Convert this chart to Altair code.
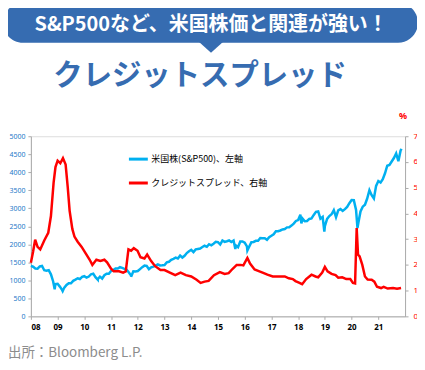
import altair as alt
import pandas as pd

# ---------------- data ----------------
years = list(range(2008, 2022))
sp_2008 = [1378, 1330, 1323, 1386, 1400, 1280, 1267, 1283, 1166, 969, 896, 903]
sp_2009 = [826, 735, 798, 873, 919, 919, 987, 1021, 1057, 1036, 1096, 1115]
sp_2010 = [1074, 1104, 1169, 1187, 1089, 1031, 1102, 1049, 1141, 1183, 1181, 1258]
sp_2011 = [1286, 1327, 1326, 1364, 1345, 1321, 1292, 1219, 1131, 1253, 1247, 1258]
sp_2012 = [1312, 1366, 1408, 1398, 1310, 1362, 1379, 1407, 1441, 1412, 1416, 1426]
sp_2013 = [1498, 1515, 1569, 1598, 1631, 1606, 1686, 1633, 1682, 1757, 1806, 1848]
sp_2014 = [1783, 1859, 1872, 1884, 1924, 1960, 1931, 2003, 1972, 2018, 2068, 2059]
sp_2015 = [1995, 2105, 2068, 2086, 2107, 2063, 2104, 1972, 1920, 2079, 2080, 2044]
sp_2016 = [1940, 1932, 2060, 2065, 2097, 2099, 2174, 2171, 2168, 2126, 2199, 2239]
sp_2017 = [2279, 2364, 2363, 2384, 2412, 2423, 2470, 2472, 2519, 2575, 2648, 2674]
sp_2018 = [2824, 2714, 2641, 2648, 2705, 2718, 2816, 2902, 2914, 2712, 2760, 2507]
sp_2019 = [2704, 2784, 2834, 2946, 2752, 2942, 2980, 2926, 2977, 3038, 3141, 3231]
sp_2020 = [3226, 2954, 2585, 2912, 3044, 3100, 3271, 3500, 3363, 3270, 3622, 3756]
sp_2021 = [3714, 3811, 3973, 4181, 4204, 4298, 4395, 4523, 4308, 4605]
sp_by_year = [sp_2008, sp_2009, sp_2010, sp_2011, sp_2012, sp_2013, sp_2014,
              sp_2015, sp_2016, sp_2017, sp_2018, sp_2019, sp_2020, sp_2021]
# intra-month extremes
sp_extra_t = [2008.0, 2008.89, 2009.19, 2010.5, 2011.75, 2015.65, 2016.1,
              2018.12, 2018.98, 2020.22, 2021.87]
sp_extra_v = [1400, 752, 700, 1022, 1099, 1868, 1829, 2581, 2351, 2450, 4650]

cs_t = [2008.0, 2008.08, 2008.16, 2008.25, 2008.35, 2008.5, 2008.65, 2008.75, 2008.85, 2008.92,
        2009.0, 2009.1, 2009.2, 2009.3, 2009.38, 2009.45, 2009.55, 2009.63, 2009.75, 2009.9,
        2010.05, 2010.2, 2010.3, 2010.45, 2010.6, 2010.75, 2010.85, 2011.0, 2011.1, 2011.3,
        2011.45, 2011.55, 2011.65, 2011.75, 2011.85, 2011.99, 2012.1, 2012.25, 2012.35, 2012.5,
        2012.65, 2012.85, 2013.0, 2013.2, 2013.4, 2013.6, 2013.8, 2014.0, 2014.2, 2014.35,
        2014.5, 2014.65, 2014.85, 2015.07, 2015.25, 2015.4, 2015.55, 2015.7, 2015.85, 2015.95,
        2016.1, 2016.2, 2016.37, 2016.55, 2016.67, 2016.85, 2017.05, 2017.3, 2017.5, 2017.65,
        2017.8, 2017.9, 2018.05, 2018.15, 2018.3, 2018.5, 2018.65, 2018.75, 2018.9, 2019.0,
        2019.1, 2019.25, 2019.4, 2019.5, 2019.65, 2019.8, 2019.95, 2020.05, 2020.13, 2020.19,
        2020.24, 2020.3, 2020.4, 2020.5, 2020.6, 2020.75, 2020.85, 2020.95, 2021.1, 2021.2,
        2021.35, 2021.55, 2021.7, 2021.85]
cs_v = [2.08, 2.5, 2.98, 2.7, 2.6, 2.95, 3.25, 3.9, 5.2, 5.8,
        6.05, 5.95, 6.15, 5.9, 5.0, 4.1, 3.4, 3.1, 2.9, 2.7,
        2.45, 2.2, 2.0, 2.2, 2.15, 2.2, 2.1, 1.85, 1.75, 1.75,
        1.7, 1.75, 2.6, 2.55, 2.65, 2.55, 2.3, 2.25, 2.4, 2.15,
        1.95, 1.8, 1.8, 1.7, 1.6, 1.7, 1.6, 1.55, 1.42, 1.3,
        1.35, 1.38, 1.6, 1.72, 1.65, 1.68, 1.85, 2.0, 2.0, 1.98,
        2.27, 2.05, 1.82, 1.75, 1.7, 1.62, 1.55, 1.55, 1.55, 1.48,
        1.45, 1.37, 1.3, 1.25, 1.45, 1.62, 1.55, 1.52, 1.7, 1.92,
        1.75, 1.65, 1.6, 1.5, 1.52, 1.45, 1.45, 1.3, 1.28, 3.43,
        2.4, 2.33, 2.0, 1.55, 1.43, 1.42, 1.35, 1.15, 1.1, 1.15,
        1.08, 1.1, 1.07, 1.1]

series_names = ["米国株(S&P500)、左軸", "クレジットスプレッド、右軸"]
series_colors = ["#00b0f0", "#ff0000"]
x_ticks = years
left_ticks = list(range(0, 5001, 500))
right_ticks = list(range(0, 8))

banner_text = "S&P500など、米国株価と関連が強い！"
title_text = "クレジットスプレッド"
source_text = "出所：Bloomberg L.P."
unit_text = "%"

# ---------------- tables ----------------
rows = []
for y, vals in zip(years, sp_by_year):
    for m, v in enumerate(vals):
        rows.append({"t": y + (m + 1) / 12.0, "v": v})
for t, v in zip(sp_extra_t, sp_extra_v):
    rows.append({"t": t, "v": v})
sp_df = pd.DataFrame(rows).sort_values("t")
sp_df["s"] = series_names[0]
cs_df = pd.DataFrame({"t": cs_t, "v": cs_v})
cs_df["s"] = series_names[1]

FONT = "Noto Sans CJK JP"
BLUE = "#366cb1"

color_scale = alt.Scale(domain=series_names, range=series_colors)
legend = alt.Legend(
    title=None, orient="none", legendX=97, legendY=12, symbolType="stroke",
    symbolSize=361, symbolStrokeWidth=3, labelFont=FONT, labelFontSize=9,
    labelColor="#000000", labelOffset=2, rowPadding=7, padding=0,
)

x_axis = alt.Axis(values=x_ticks, title=None, grid=False, labelOverlap=False,
                  labelExpr="substring(toString(datum.value), 2, 4)",
                  labelFont="Noto Sans", labelFontSize=8, labelFontWeight="bold",
                  labelColor="#000000", domainColor="#aaaaaa", tickColor="#aaaaaa",
                  tickSize=3, labelPadding=4)
x_scale = alt.Scale(domain=[2008, 2022], nice=False, zero=False)

sp_line = alt.Chart(sp_df).mark_line(strokeWidth=2.5).encode(
    x=alt.X("t:Q", scale=x_scale, axis=x_axis),
    y=alt.Y("v:Q", scale=alt.Scale(domain=[0, 5000], nice=False),
            axis=alt.Axis(orient="left", values=left_ticks, title=None, grid=False,
                          labelOverlap=False, format="d",
                          labelFont="Noto Sans", labelFontSize=7, labelColor="#1e78c8",
                          domainColor="#aaaaaa", tickColor="#aaaaaa", tickSize=3,
                          labelPadding=3)),
    color=alt.Color("s:N", scale=color_scale, legend=legend),
)

cs_line = alt.Chart(cs_df).mark_line(strokeWidth=2.5).encode(
    x=alt.X("t:Q", scale=x_scale, axis=x_axis),
    y=alt.Y("v:Q", scale=alt.Scale(domain=[0, 7], nice=False),
            axis=alt.Axis(orient="right", values=right_ticks, title=None, grid=False,
                          labelOverlap=False, format="d",
                          labelFont="Noto Sans", labelFontSize=8, labelColor="#ff0000",
                          domainColor="#aaaaaa", tickColor="#aaaaaa", tickSize=3,
                          labelPadding=5)),
    color=alt.Color("s:N", scale=color_scale, legend=legend),
)

lines = alt.layer(sp_line, cs_line).resolve_scale(y="independent")

one = pd.DataFrame({"k": [0]})
banner = alt.Chart(one).mark_rect(color=BLUE, cornerRadius=20).encode(
    x=alt.value(-28), x2=alt.value(389), y=alt.value(-134), y2=alt.value(-94))
pointer = alt.Chart(one).mark_point(
    shape="M-1,-0.05L1,-0.05L0,0.85Z", filled=True, color=BLUE, opacity=1, size=576
).encode(x=alt.value(181), y=alt.value(-94))
banner_t = alt.Chart(one).mark_text(
    text=banner_text, font=FONT, fontSize=20, fontWeight="bold", color="#ffffff",
    align="center", baseline="middle").encode(x=alt.value(181), y=alt.value(-112))
title_t = alt.Chart(one).mark_text(
    text=title_text, font=FONT, fontSize=29.5, fontWeight="bold", color=BLUE,
    align="center", baseline="middle").encode(x=alt.value(170), y=alt.value(-60))
unit_t = alt.Chart(one).mark_text(
    text=unit_text, font="Noto Sans", fontSize=9, fontWeight="bold", color="#ff0000",
    align="center", baseline="middle").encode(x=alt.value(374), y=alt.value(-20))
source_t = alt.Chart(one).mark_text(
    text=source_text, font=FONT, fontSize=13.5, color="#8c8c8c",
    align="left", baseline="alphabetic").encode(x=alt.value(-23), y=alt.value(222))

chart = alt.layer(banner, pointer, banner_t, title_t, unit_t, source_t, lines).properties(
    width=376, height=181,
    autosize=alt.AutoSizeParams(type="none"),
    padding={"left": 23, "top": 128, "right": 12, "bottom": 45},
).configure_view(stroke=None).configure_axis(labelOverlap=False).configure(background="#ffffff")

chart.save("out.html", embed_options={"renderer": "svg", "actions": False})
